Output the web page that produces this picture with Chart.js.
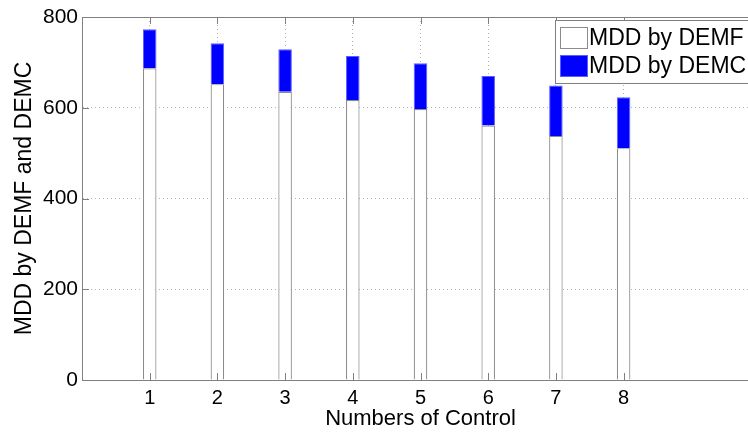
<!DOCTYPE html>
<html>
<head>
<meta charset="utf-8">
<script src="https://cdn.jsdelivr.net/npm/chart.js@4/dist/chart.umd.min.js"></script>
<style>
  html, body { margin: 0; padding: 0; background: #fff; overflow: hidden; }
  #wrap { width: 770px; height: 434px; position: relative; }
</style>
</head>
<body>
<div id="wrap"><canvas id="c"></canvas></div>
<script>
// Numbers of control (x positions of the bars)
const controlCounts = [1, 2, 3, 4, 5, 6, 7, 8];
// MDD values for each method
const mddDEMF = [687, 652, 635, 617, 597, 561, 538, 511];
const mddDEMC = [773, 742, 729, 714, 698, 670, 649, 623];
// Axis ticks
const xTicks = [1, 2, 3, 4, 5, 6, 7, 8];
const yTicks = [0, 200, 400, 600, 800];
const seriesNames = ['MDD by DEMF', 'MDD by DEMC'];

const FONT = 'Liberation Sans, Arial, Helvetica, sans-serif';
const AXIS = '#808080';

// Inward tick marks and the closed box around the axes
const boxTicks = {
  id: 'boxTicks',
  afterDatasetsDraw(chart) {
    const { ctx, chartArea: a, scales } = chart;
    const len = 7;
    ctx.save();
    ctx.strokeStyle = AXIS;
    ctx.lineWidth = 1;
    ctx.beginPath();
    yTicks.forEach(v => {
      const y = Math.round(scales.y.getPixelForValue(v)) + 0.5;
      ctx.moveTo(a.left, y); ctx.lineTo(a.left + len, y);
      ctx.moveTo(a.right, y); ctx.lineTo(a.right - len, y);
    });
    xTicks.forEach(v => {
      const x = Math.round(scales.x.getPixelForValue(v)) + 0.5;
      ctx.moveTo(x, a.bottom); ctx.lineTo(x, a.bottom - len);
      ctx.moveTo(x, a.top); ctx.lineTo(x, a.top + len);
    });
    ctx.stroke();
    ctx.strokeRect(Math.round(a.left) + 0.5, Math.round(a.top) + 0.5,
                   Math.round(a.right - a.left), Math.round(a.bottom - a.top));
    ctx.restore();
  }
};

// Boxed legend in the upper right corner
const boxLegend = {
  id: 'boxLegend',
  afterDraw(chart) {
    const { ctx } = chart;
    const x0 = 555, y0 = 20, w = 215, h = 63;
    ctx.save();
    ctx.fillStyle = '#fff';
    ctx.fillRect(x0, y0, w, h);
    ctx.strokeStyle = AXIS;
    ctx.lineWidth = 1;
    ctx.strokeRect(x0 + 0.5, y0 + 0.5, w, h);
    const ds = chart.data.datasets;
    ds.forEach((d, i) => {
      const sy = 27 + i * 28;
      ctx.fillStyle = d.backgroundColor;
      ctx.fillRect(560, sy, 28, 22);
      ctx.strokeStyle = d.legendEdge;
      ctx.strokeRect(560.5, sy + 0.5, 27, 21);
      ctx.fillStyle = '#000';
      ctx.font = '23px ' + FONT;
      ctx.textBaseline = 'middle';
      ctx.textAlign = 'left';
      ctx.fillText(d.label, 589, sy + 12);
    });
    ctx.restore();
  }
};

new Chart(document.getElementById('c'), {
  type: 'bar',
  data: {
    datasets: [
      {
        label: seriesNames[0],
        data: controlCounts.map((x, i) => ({ x, y: mddDEMF[i] })),
        backgroundColor: '#ffffff',
        borderColor: '#8c8c8c',
        legendEdge: '#8c8c8c',
        borderWidth: 1.2,
        grouped: false,
        categoryPercentage: 1,
        barPercentage: 0.2
      },
      {
        // DEMC part sits on top of the DEMF bar
        label: seriesNames[1],
        data: controlCounts.map((x, i) => ({ x, y: [mddDEMF[i], mddDEMC[i]] })),
        backgroundColor: '#0000ff',
        borderColor: '#5c5cff',
        legendEdge: '#5c5cff',
        borderWidth: 1,
        grouped: false,
        categoryPercentage: 1,
        barPercentage: 0.2
      }
    ]
  },
  options: {
    responsive: true,
    maintainAspectRatio: false,
    animation: false,
    layout: { padding: { top: 17, right: 11, left: 0, bottom: 0 } },
    plugins: { legend: { display: false }, tooltip: { enabled: false } },
    scales: {
      x: {
        type: 'linear',
        min: 0,
        max: 10,
        offset: false,
        grid: { offset: false, color: '#b4b4b4', lineWidth: 1, drawTicks: false },
        border: { color: AXIS, width: 1, dash: [1, 3] },
        afterBuildTicks(scale) { scale.ticks = xTicks.map(v => ({ value: v })); },
        afterFit(scale) { scale.height = 54; },
        ticks: {
          color: '#000',
          padding: 6,
          font: { family: FONT, size: 20 },
          callback: v => String(v)
        },
        title: {
          display: true,
          text: 'Numbers of Control',
          color: '#000',
          font: { family: FONT, size: 22 },
          padding: { top: 0, bottom: 2 }
        }
      },
      y: {
        min: 0,
        max: 800,
        grid: { color: '#b4b4b4', lineWidth: 1, drawTicks: false },
        border: { color: AXIS, width: 1, dash: [1, 3] },
        afterBuildTicks(scale) { scale.ticks = yTicks.map(v => ({ value: v })); },
        afterFit(scale) { scale.width = 82; },
        ticks: {
          color: '#000',
          padding: 4,
          font: { family: FONT, size: 21 }
        },
        title: {
          display: true,
          text: 'MDD by DEMF and DEMC',
          color: '#000',
          font: { family: FONT, size: 23 },
          padding: { top: 11, bottom: 0 }
        }
      }
    }
  },
  plugins: [boxTicks, boxLegend]
});
</script>
</body>
</html>
